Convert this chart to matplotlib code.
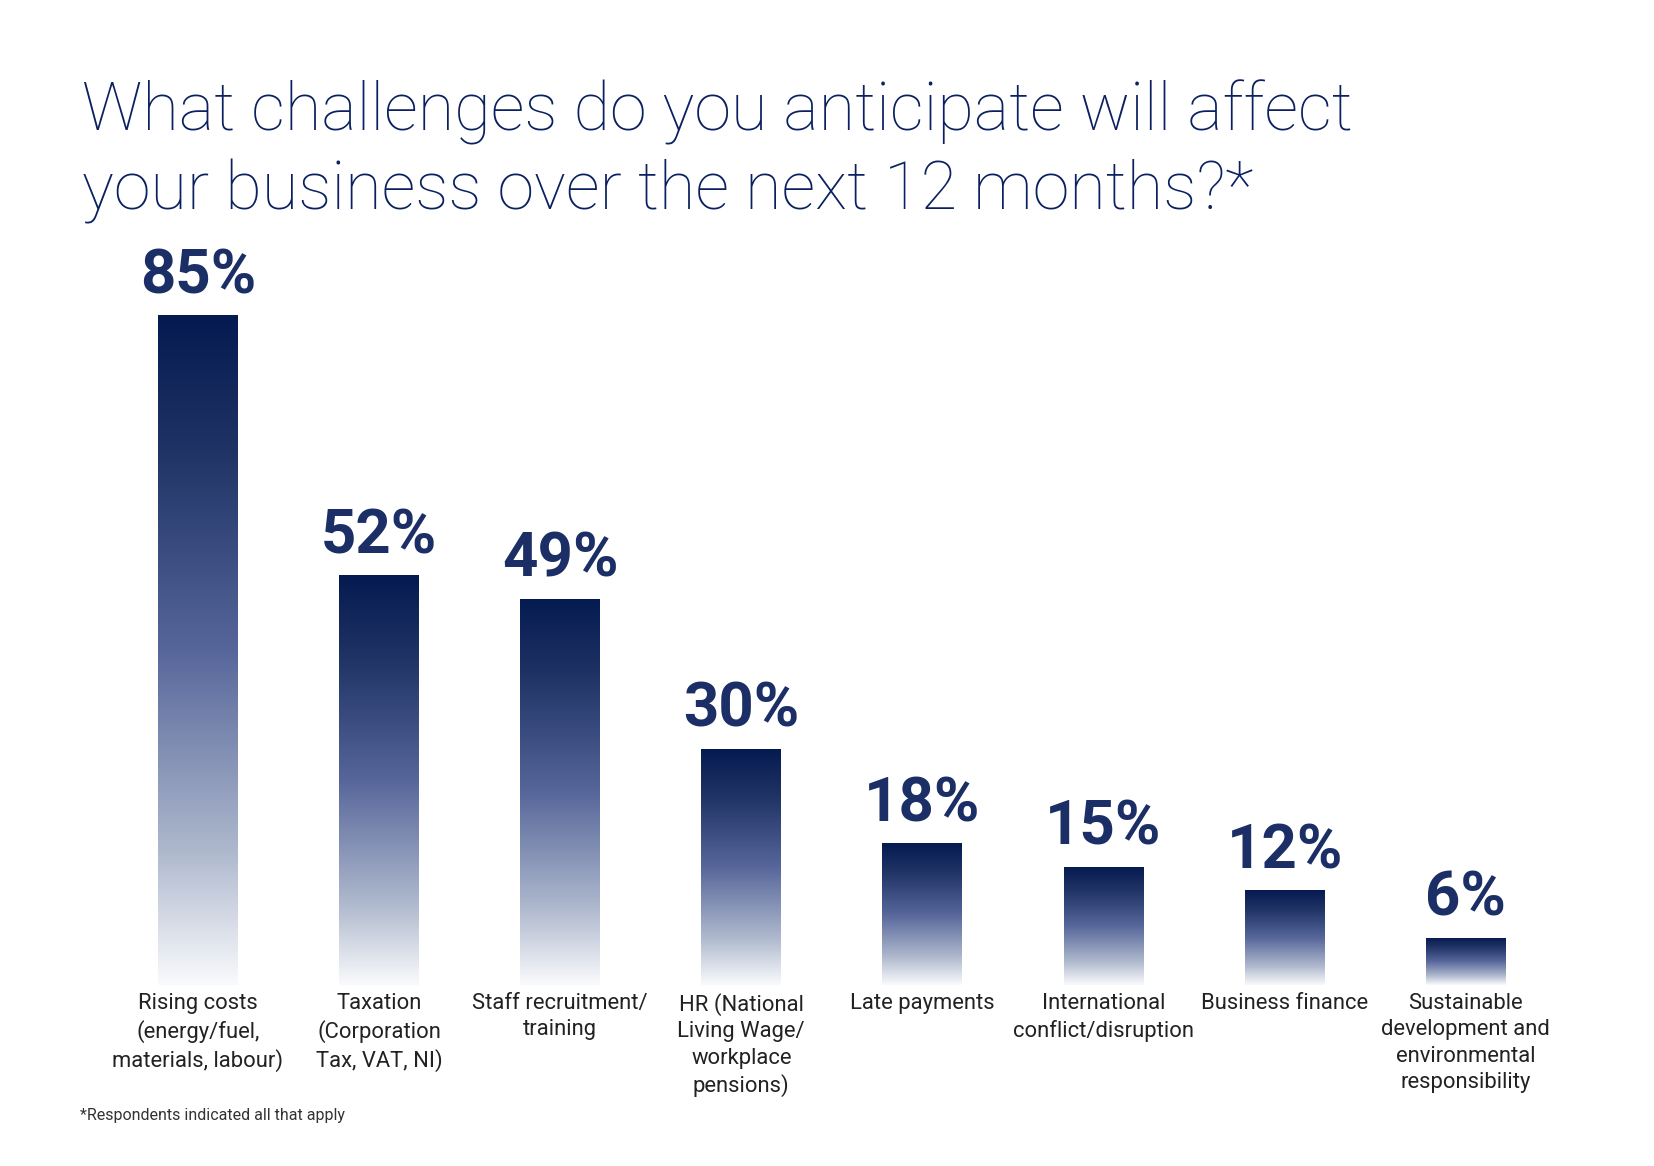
import numpy as np
import matplotlib
matplotlib.use("Agg")
import matplotlib.pyplot as plt
from matplotlib.colors import LinearSegmentedColormap

categories = [
    "Rising costs\n(energy/fuel,\nmaterials, labour)",
    "Taxation\n(Corporation\nTax, VAT, NI)",
    "Staff recruitment/\ntraining",
    "HR (National\nLiving Wage/\nworkplace\npensions)",
    "Late payments",
    "International\nconflict/disruption",
    "Business finance",
    "Sustainable\ndevelopment and\nenvironmental\nresponsibility",
]
values = [85, 52, 49, 30, 18, 15, 12, 6]
value_labels = ["85%", "52%", "49%", "30%", "18%", "15%", "12%", "6%"]
title = "What challenges do you anticipate will affect\nyour business over the next 12 months?*"
footnote = "*Respondents indicated all that apply"

NAVY = "#0a2060"
LABEL_NAVY = "#1b2f66"

W, H = 1654, 1166
fig = plt.figure(figsize=(W / 100, H / 100), dpi=100)
fig.patch.set_facecolor("white")

# axes placement in pixels
step = 181.1
x0_center = 198
left_px = x0_center - 0.5 * step
width_px = 8 * step
bottom_px = H - 985
height_px = 7.88 * 100
ax = fig.add_axes([left_px / W, bottom_px / H, width_px / W, height_px / H])
ax.set_xlim(-0.5, 7.5)
ax.set_ylim(0, 100)
ax.axis("off")

cmap = LinearSegmentedColormap.from_list(
    "navyfade",
    [(0.0, "#f9fafc"), (0.2, "#aeb8cd"), (0.5, "#56669a"), (0.8, "#1f3365"), (1.0, "#051a50")],
)
grad = np.linspace(0, 1, 256).reshape(-1, 1)

x = np.arange(len(values))
bw = 80 / step
bars = ax.bar(x, values, width=bw, color="none", edgecolor="none")
for b in bars:
    x_l, y_b = b.get_x(), b.get_y()
    im = ax.imshow(grad, extent=[x_l, x_l + b.get_width(), y_b, y_b + b.get_height()],
                   origin="lower", aspect="auto", cmap=cmap, zorder=2, interpolation="bicubic")
    im.set_clip_path(b)

for xi, v, lab in zip(x, values, value_labels):
    ax.text(xi, v + 22 / 7.88, lab, ha="center", va="baseline",
            fontsize=44.5, fontweight="bold", family="Roboto", color=LABEL_NAVY)

for xi, cat in zip(x, categories):
    ax.text(xi, -8 / 7.88, cat, ha="center", va="top", fontsize=15.8,
            family="Roboto", color="#222222", linespacing=1.33)

fig.text(82 / W, 1 - 209 / H, title, ha="left", va="baseline", fontsize=48,
         family="Roboto", fontweight=100, color=NAVY, linespacing=1.27)

fig.text(80 / W, 1 - 1120 / H, footnote, ha="left", va="baseline", fontsize=11.5,
         family="Roboto", color="#333333")

fig.savefig("out.png", dpi=100, facecolor="white")
